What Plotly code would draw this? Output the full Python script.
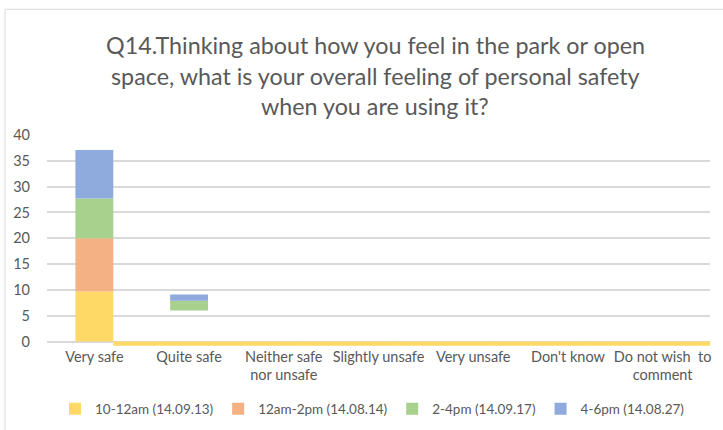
import plotly.graph_objects as go

categories = ["Very safe", "Quite safe", "Neither safe<br>nor unsafe", "Slightly unsafe",
              "Very unsafe", "Don't know", "Do not wish  to<br>comment"]
series_names = ["10-12am (14.09.13)", "12am-2pm (14.08.14)", "2-4pm (14.09.17)", "4-6pm (14.08.27)"]
yellow = [9.7, 3.0, 0, 0, 0, 0, 0]
orange = [10.3, 3.0, 0, 0, 0, 0, 0]
green = [7.7, 1.9, 0, 0, 0, 0, 0]
blue = [9.4, 1.2, 0, 0, 0, 0, 0]
# thin yellow strip below zero drawn for the remaining categories
yellow_below = [-0.8, -0.8, -0.8, -0.8, -0.8, -0.8]
yellow_visible = [1, 0, 1, 1, 1, 1, 1]
orange_visible = [1, 0, 1, 1, 1, 1, 1]

colors = ["#FFD966", "#F4B183", "#A9D18E", "#8FAADC"]
FONT = "Lato"
GREY = "#595959"

fig = go.Figure()
for name, vals, col, op in [(series_names[0], yellow, colors[0], yellow_visible),
                            (series_names[1], orange, colors[1], orange_visible),
                            (series_names[2], green, colors[2], None),
                            (series_names[3], blue, colors[3], None)]:
    marker = dict(color=col, line=dict(width=0))
    if op is not None:
        marker["opacity"] = op
    fig.add_trace(go.Bar(x=categories, y=vals, name=name, marker=marker, width=0.4))

fig.add_trace(go.Bar(x=categories[1:], y=yellow_below, marker=dict(color=colors[0], line=dict(width=0)),
                     offset=-0.8, width=[1, 1, 1, 1, 1, 1.3], showlegend=False))

title_lines = ["Q14.Thinking about how you feel in the park or open",
               "space, what is your overall feeling of personal safety",
               "when you are using it?"]
title_y = [45, 76, 106]
annotations = []
for t, yy in zip(title_lines, title_y):
    annotations.append(dict(text=t, xref="paper", yref="paper",
                            x=(375 - 47) / 663, y=(346.4 - yy) / 211.4,
                            xanchor="center", yanchor="middle", showarrow=False,
                            font=dict(family=FONT, size=23.3, color=GREY)))

fig.update_layout(
    width=723, height=430,
    margin=dict(l=47, r=13, t=135, b=84),
    paper_bgcolor="white", plot_bgcolor="white",
    barmode="relative",
    bargap=0.6,
    showlegend=True,
    legend=dict(orientation="h", xref="container", yref="container",
                x=372 / 723, xanchor="center", y=1 - 409 / 430, yanchor="middle",
                font=dict(family=FONT, size=13.5, color=GREY),
                traceorder="normal", itemwidth=30, tracegroupgap=0),
    annotations=annotations,
    font=dict(family=FONT, size=14.5, color=GREY),
    shapes=[dict(type="rect", xref="paper", yref="paper",
                 x0=(5 - 47) / 663, x1=1.2, y0=-0.6, y1=1 + (135 - 9) / 211.4,
                 line=dict(color="#D9D9D9", width=1), fillcolor="rgba(0,0,0,0)", layer="below")],
)
fig.update_yaxes(range=[-0.85, 40], tickvals=[0, 5, 10, 15, 20, 25, 30, 35, 40],
                 showgrid=True, gridcolor="#D9D9D9", gridwidth=1.5, zeroline=False,
                 showline=False, ticks="", ticklabelstandoff=16, automargin=False,
                 tickfont=dict(family=FONT, size=14.5, color=GREY))
fig.update_xaxes(showgrid=False, showline=False, ticks="", range=[-0.5, 6.5], automargin=False,
                 tickfont=dict(family=FONT, size=14.5, color=GREY))

fig.write_html("out.html", config={"displayModeBar": False},
               post_script="document.body.style.margin='0';")
